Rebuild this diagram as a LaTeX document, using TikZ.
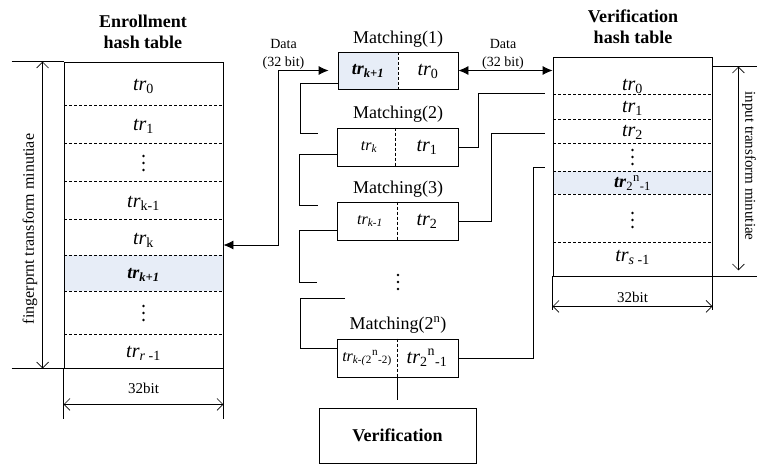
\documentclass[tikz,border=0pt]{standalone}
\usepackage{fontspec}
\setmainfont{Liberation Serif}
\usetikzlibrary{arrows.meta}
\definecolor{hlblue}{RGB}{231,237,247}
\newcommand\trx{\textit{tr}}
\newcommand\vdt[3]{\coordinate (#1) at (#2,#3);
  \foreach \d in {-7,0,7} \fill ([yshift=\d pt]#1) circle (1.3pt);}
\begin{document}
\begin{tikzpicture}[x=1pt,y=-1pt, line width=0.8pt,
  box/.style={draw, inner sep=0pt},
  dsh/.style={dash pattern=on 3pt off 2pt, line width=0.6pt},
  trl/.style={font=\fontsize{20}{20}\selectfont, inner sep=0pt},
  trb/.style={font=\fontsize{18}{18}\selectfont\bfseries, inner sep=0pt},
  trsm/.style={font=\fontsize{16}{16}\selectfont, inner sep=0pt},
  lbl/.style={font=\fontsize{18}{18}\selectfont, inner sep=0pt, anchor=base},
  ttl/.style={font=\fontsize{18}{21}\selectfont\bfseries, align=center, inner sep=0pt},
  small/.style={font=\fontsize{14}{18}\selectfont, align=center, inner sep=0pt},
  dimtxt/.style={font=\fontsize{15}{15}\selectfont, inner sep=0pt},
  side/.style={font=\fontsize{16}{16}\selectfont, inner sep=0pt},
  dim/.style={arrows={Straight Barb[length=6pt,width=12pt]-Straight Barb[length=6pt,width=12pt]}, line width=0.6pt},
  dat/.style={arrows={Latex[length=10pt,width=9pt]-Latex[length=10pt,width=9pt]}},
]
\useasboundingbox (0,0) rectangle (757,466);

% ---------- Enrollment hash table ----------
\node[ttl] (ETt) at (143,32) {Enrollment\\hash table};
\fill[hlblue] (64,255) rectangle (223,291);
\node[box, minimum width=159pt, minimum height=306pt] (ET) at (143.5,215) {};
\foreach \y in {105,143,181,219,255,291,334} \draw[dsh] (64,\y) -- (223,\y);
\node[trl] (e0) at (143.5,86) {\trx\textsubscript{0}};
\node[trl] (e1r) at (143.5,126) {\trx\textsubscript{1}};
\vdt{ed1}{143.5}{163}
\node[trl] (ek1) at (143.5,203) {\trx\textsubscript{k-1}};
\node[trl] (ek) at (143.5,240) {\trx\textsubscript{k}};
\node[trb] (ekp) at (143.5,275) {\textit{tr}\textsubscript{\textit{k+1}}};
\vdt{ed2}{143.5}{313}
\node[trl] (er) at (143.5,353) {\trx\textsubscript{\textit{r} -1}};
% dimensions
\draw ([xshift=-52pt]ET.north west) -- (ET.north west);
\draw ([xshift=-52pt]ET.south west) -- (ET.south west);
\draw[dim] ([xshift=-21pt]ET.north west) -- ([xshift=-21pt]ET.south west);
\node[side, rotate=90] (ETs) at (30,229) {fingerprnt transform minutiae};
\draw (ET.south west) -- ++(0,51);
\draw (ET.south east) -- ++(0,51);
\draw[dim] ([yshift=-36pt]ET.south west) -- ([yshift=-36pt]ET.south east);
\node[dimtxt] (ETb) at (143.5,388) {32bit};

% ---------- Verification hash table ----------
\node[ttl] (VTt) at (633,26.5) {Verification\\hash table};
\fill[hlblue] (553,171) rectangle (712,194);
\node[box, minimum width=159pt, minimum height=219pt] (VT) at (632.5,166.5) {};
\foreach \y in {94,119,143,171,194,242} \draw[dsh] (553,\y) -- (712,\y);
\node[trl] (v0) at (632.5,86) {\trx\textsubscript{0}};
\node[trl] (v1) at (632.5,108) {\trx\textsubscript{1}};
\node[trl] (v2) at (632.5,132) {\trx\textsubscript{2}};
\vdt{vd1}{632.5}{157}
\node[trb] (vn) at (632.5,183) {\textit{tr}{\mdseries\textsubscript{2}\textsuperscript{n}\textsubscript{-1}}};
\vdt{vd2}{632.5}{220}
\node[trl] (vs) at (632.5,257) {\trx\textsubscript{\textit{s} -1}};
% dimensions
\draw ([yshift=-10pt]VT.north east) -- ++(45,0);
\draw (VT.south east) -- ++(45,0);
\draw[dim] ([xshift=26pt,yshift=-10pt]VT.north east) -- ([xshift=26pt,yshift=6pt]VT.south east);
\node[side, rotate=-90, font=\fontsize{15}{15}\selectfont] (VTs) at (749,166) {input transform minutiae};
\draw (VT.south west) -- ++(0,34);
\draw (VT.south east) -- ++(0,34);
\draw[dim] ([yshift=-30pt]VT.south west) -- ([yshift=-30pt]VT.south east);
\node[dimtxt] (VTb) at (632.5,297) {32bit};

% ---------- Matching boxes ----------
\fill[hlblue] (338,52) rectangle (398,89);
\node[box, minimum width=120pt, minimum height=37pt] (M1) at (398,70.5) {};
\draw[dsh] (M1.north) -- (M1.south);
\node[lbl] (M1t) at (398,43) {Matching(1)};
\node[trb] (m1a) at (368,71) {\textit{tr}\textsubscript{\textit{k+1}}};
\node[trl] (m1b) at (428,71) {\trx\textsubscript{0}};

\node[box, minimum width=121pt, minimum height=38pt] (M2) at (397.5,147) {};
\draw[dsh] ([xshift=-2.5pt]M2.north) -- ([xshift=-2.5pt]M2.south);
\node[lbl] (M2t) at (398,118) {Matching(2)};
\node[trsm] (m2a) at (369,147) {\trx\textsubscript{\textit{k}}};
\node[trl] (m2b) at (427,147) {\trx\textsubscript{1}};

\node[box, minimum width=121pt, minimum height=38pt] (M3) at (397.5,221) {};
\draw[dsh] (M3.north) -- (M3.south);
\node[lbl] (M3t) at (398,193) {Matching(3)};
\node[trsm] (m3a) at (370,221) {\trx\textsubscript{\textit{k-1}}};
\node[trl] (m3b) at (427,221) {\trx\textsubscript{2}};

\vdt{md}{398}{282}

\node[box, minimum width=121pt, minimum height=38pt] (M4) at (397.5,358) {};
\draw[dsh] (M4.north) -- (M4.south);
\node[lbl] (M4t) at (398,329) {Matching(2\textsuperscript{n})};
\node[trsm] (m4a) at (367,358) {\trx\textsubscript{\textit{k-(}2}\textsuperscript{n}\textsubscript{-2)}};
\node[trl] (m4b) at (427,358) {\trx\textsubscript{2}\textsuperscript{n}\textsubscript{-1}};

\node[box, minimum width=157pt, minimum height=55pt, font=\fontsize{18}{18}\selectfont\bfseries] (V) at (397.5,435.5) {Verification};
\draw (M4.south) -- ([yshift=8pt]V.north);

% ---------- data arrows ----------
\draw[dat] ([yshift=-30pt]ET.east) -- ++(55,0) |- ([xshift=-9pt]M1.west);
\draw[dat] (M1.east) -- (VT.west |- M1.east);
\node[small] (dl) at (283.5,54) {Data\\(32 bit)};
\node[small] (dr) at (503,54) {Data\\(32 bit)};

% ---------- left connectors ----------
\coordinate (c1) at (318,133);
\coordinate (c2) at (318,205);
\coordinate (c3) at (317,282);
\coordinate (c4) at (345,298);
\draw ([yshift=-12.5pt]M1.west) -- ++(-37,0) |- (c1);
\draw ([yshift=-7pt]M2.west) -- ++(-37,0) |- (c2);
\draw ([yshift=-9pt]M3.west) -- ++(-37,0) |- (c3);
\draw (c4) -- ++(-45,0) |- ([yshift=10pt]M4.west);

% ---------- right connectors ----------
\coordinate (f1) at (545,93);
\coordinate (f2) at (545,133);
\coordinate (f3) at (545,167);
\draw (M2.east) -- ++(20,0) |- (f1);
\draw (M3.east) -- ++(33,0) |- (f2);
\draw (M4.east) -- ++(75,0) |- (f3);
\end{tikzpicture}
\end{document}
